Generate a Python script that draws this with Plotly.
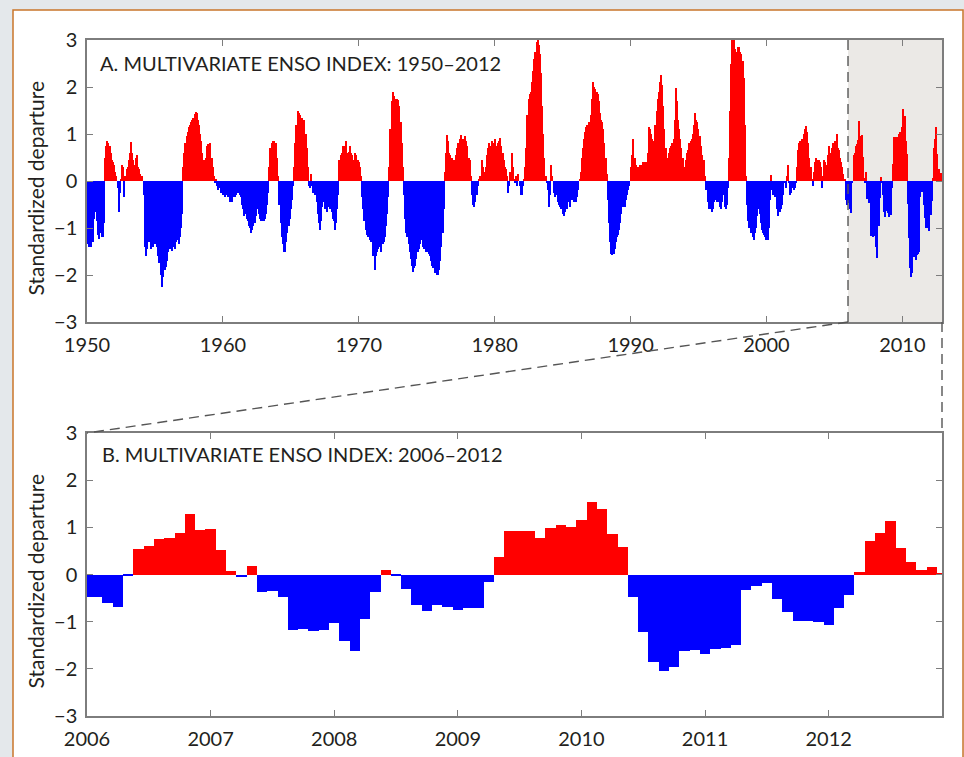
import numpy as np
import plotly.graph_objects as go

# Multivariate ENSO Index, monthly values (Jan..Dec per row)
start_year = 1950
zoom_start = 2006

mei_1950s = [
    -1.25, -1.35, -1.40, -1.30, -1.41, -1.30, -0.80, -0.60, -0.65, -0.85, -1.15, -1.24,  # 1950
    -1.10, -1.20, -1.20, -0.90, 0.50, 0.75, 0.85, 0.80, 0.75, 0.60, 0.45, 0.40,  # 1951
    0.35, 0.20, 0.10, -0.15, -0.65, -0.25, 0.05, 0.35, 0.30, -0.35, 0.10, 0.25,  # 1952
    0.30, 0.45, 0.60, 0.82, 0.60, 0.45, 0.35, 0.50, 0.55, 0.30, 0.25, 0.15,  # 1953
    0.05, 0.10, -0.30, -1.40, -1.59, -1.45, -1.30, -1.20, -1.30, -1.45, -1.40, -1.30,  # 1954
    -1.35, -1.10, -1.40, -1.60, -1.75, -2.00, -2.26, -2.05, -1.85, -1.90, -1.84, -1.70,  # 1955
    -1.50, -1.45, -1.40, -1.48, -1.35, -1.40, -1.45, -1.30, -1.25, -1.35, -1.20, -1.00,  # 1956
    -0.70, 0.30, 0.60, 0.80, 0.95, 1.05, 1.15, 1.20, 1.25, 1.30, 1.35, 1.42,  # 1957
    1.47, 1.45, 1.30, 1.20, 1.00, 0.85, 0.60, 0.45, 0.35, 0.50, 0.75, 0.78,  # 1958
    0.60, 0.80, 0.50, 0.30, 0.10, -0.05, 0.05, -0.10, -0.20, -0.15, -0.25, -0.20,  # 1959
]
mei_1960s = [
    -0.30, -0.25, -0.35, -0.20, -0.30, -0.35, -0.45, -0.40, -0.45, -0.35, -0.30, -0.35,  # 1960
    -0.30, -0.25, -0.20, -0.30, -0.35, -0.50, -0.60, -0.75, -0.70, -0.80, -0.85, -0.95,  # 1961
    -1.00, -1.10, -1.05, -0.95, -0.90, -0.75, -0.60, -0.55, -0.70, -0.80, -0.85, -0.85,  # 1962
    -0.85, -0.80, -0.70, -0.50, -0.25, 0.30, 0.70, 0.80, 0.85, 0.85, 0.80, 0.80,  # 1963
    0.50, 0.10, -0.50, -0.90, -1.20, -1.35, -1.50, -1.52, -1.30, -1.10, -0.95, -0.80,  # 1964
    -0.60, -0.40, -0.10, 0.30, 0.80, 1.20, 1.48, 1.45, 1.40, 1.35, 1.35, 1.30,  # 1965
    1.30, 1.00, 0.70, 0.30, -0.10, -0.15, 0.15, -0.10, -0.25, -0.30, -0.25, -0.45,  # 1966
    -0.70, -0.90, -1.05, -0.85, -0.55, -0.45, -0.60, -0.50, -0.65, -0.55, -0.50, -0.60,  # 1967
    -0.65, -0.80, -0.85, -1.04, -0.90, -0.60, -0.30, 0.45, 0.55, 0.60, 0.75, 0.70,  # 1968
    0.75, 0.85, 0.60, 0.62, 0.74, 0.60, 0.55, 0.45, 0.40, 0.60, 0.55, 0.45,  # 1969
]
mei_1970s = [
    0.40, 0.30, 0.10, -0.35, -0.60, -0.85, -1.05, -1.15, -1.20, -1.20, -1.25, -1.30,  # 1970
    -1.30, -1.60, -1.90, -1.60, -1.50, -1.45, -1.35, -1.40, -1.50, -1.35, -1.30, -1.20,  # 1971
    -0.95, -0.70, -0.35, 0.30, 1.10, 1.70, 1.90, 1.80, 1.70, 1.75, 1.75, 1.72,  # 1972
    1.60, 1.25, 0.80, 0.30, -0.30, -0.80, -1.10, -1.20, -1.35, -1.50, -1.65, -1.80,  # 1973
    -1.94, -1.85, -1.80, -1.65, -1.50, -1.45, -1.35, -1.10, -1.25, -1.40, -1.45, -1.50,  # 1974
    -1.50, -1.45, -1.55, -1.60, -1.70, -1.80, -1.85, -1.95, -1.90, -2.00, -2.01, -1.90,  # 1975
    -1.70, -1.40, -1.10, -0.60, 0.20, 0.60, 0.97, 0.85, 0.60, 0.55, 0.50, 0.45,  # 1976
    0.45, 0.40, 0.55, 0.70, 0.80, 0.90, 0.97, 0.90, 0.85, 0.90, 0.95, 0.85,  # 1977
    0.75, 0.50, 0.45, 0.10, -0.30, -0.50, -0.55, -0.45, -0.30, -0.10, 0.05, 0.10,  # 1978
    0.10, 0.45, 0.30, 0.20, 0.30, 0.55, 0.70, 0.80, 0.60, 0.75, 0.85, 0.80,  # 1979
]
mei_1980s = [
    0.90, 0.70, 0.75, 0.80, 0.85, 0.92, 0.75, 0.60, 0.45, 0.30, 0.25, 0.10,  # 1980
    -0.25, -0.10, 0.20, 0.60, 0.30, 0.05, -0.05, 0.10, -0.10, 0.15, -0.10, -0.30,  # 1981
    -0.30, -0.10, 0.05, 0.30, 0.70, 1.40, 1.75, 1.85, 1.90, 2.10, 2.35, 2.60,  # 1982
    2.75, 2.95, 3.00, 2.90, 2.70, 2.30, 1.60, 1.00, 0.50, 0.10, -0.05, -0.20,  # 1983
    -0.55, -0.30, 0.35, 0.10, -0.25, -0.35, -0.15, -0.30, -0.45, -0.50, -0.55, -0.60,  # 1984
    -0.70, -0.74, -0.65, -0.55, -0.60, -0.35, -0.45, -0.55, -0.40, -0.30, -0.45, -0.35,  # 1985
    -0.45, -0.35, -0.20, 0.05, 0.20, 0.50, 0.70, 0.90, 1.05, 1.15, 1.20, 1.25,  # 1986
    1.25, 1.40, 1.75, 2.10, 2.00, 1.95, 1.90, 1.85, 1.70, 1.45, 1.30, 1.25,  # 1987
    1.10, 0.80, 0.50, 0.15, -0.40, -0.90, -1.30, -1.55, -1.58, -1.55, -1.45, -1.30,  # 1988
    -1.20, -1.15, -1.05, -0.90, -0.70, -0.55, -0.50, -0.55, -0.40, -0.30, -0.20, -0.10,  # 1989
]
mei_1990s = [
    0.30, 0.55, 0.90, 0.45, 0.50, 0.35, 0.30, 0.30, 0.35, 0.30, 0.35, 0.40,  # 1990
    0.40, 0.35, 0.40, 0.60, 1.15, 1.10, 1.00, 0.90, 0.75, 0.85, 1.20, 1.50,  # 1991
    1.75, 1.90, 2.10, 2.25, 2.05, 1.60, 1.10, 0.70, 0.50, 0.45, 0.60, 0.70,  # 1992
    0.75, 0.80, 0.90, 1.30, 1.98, 1.70, 1.30, 1.10, 0.90, 0.70, 0.50, 0.30,  # 1993
    0.20, 0.45, 0.60, 0.65, 0.80, 0.85, 0.90, 1.00, 1.20, 1.45, 1.30, 1.25,  # 1994
    1.10, 0.95, 0.75, 0.55, 0.40, 0.45, 0.10, -0.20, -0.45, -0.60, -0.60, -0.55,  # 1995
    -0.65, -0.60, -0.45, -0.40, -0.45, -0.30, -0.45, -0.55, -0.60, -0.45, -0.30, -0.55,  # 1996
    -0.60, -0.50, -0.15, 0.50, 1.50, 2.50, 3.00, 3.00, 2.80, 2.70, 2.75, 2.85,  # 1997
    2.85, 2.75, 2.70, 2.55, 2.20, 1.20, 0.10, -0.50, -0.85, -1.00, -1.10, -1.10,  # 1998
    -1.20, -1.25, -1.10, -1.00, -0.75, -0.60, -0.70, -0.90, -1.05, -1.10, -1.15, -1.20,  # 1999
]
mei_2000s = [
    -1.25, -1.25, -1.00, -0.40, 0.12, -0.20, -0.30, -0.20, -0.35, -0.60, -0.75, -0.65,  # 2000
    -0.65, -0.60, -0.50, -0.30, -0.05, -0.15, 0.10, 0.35, -0.05, -0.30, -0.25, -0.15,  # 2001
    -0.20, -0.15, -0.05, 0.30, 0.65, 0.80, 0.85, 0.90, 0.90, 1.00, 1.10, 1.17,  # 2002
    1.05, 0.80, 0.50, 0.30, 0.05, -0.10, 0.20, 0.40, 0.50, 0.45, 0.45, 0.40,  # 2003
    0.30, -0.15, 0.10, 0.45, 0.40, 0.35, 0.55, 0.75, 0.60, 0.55, 0.70, 0.80,  # 2004
    0.55, 0.85, 1.00, 0.70, 0.65, 0.50, 0.40, 0.30, 0.15, 0.05, -0.40, -0.50,  # 2005
    -0.47, -0.47, -0.60, -0.68, -0.03, 0.55, 0.60, 0.75, 0.78, 0.88, 1.28, 0.95,  # 2006
    0.97, 0.52, 0.07, -0.05, 0.19, -0.38, -0.35, -0.47, -1.18, -1.16, -1.19, -1.17,  # 2007
    -1.02, -1.41, -1.63, -0.95, -0.37, 0.09, -0.03, -0.30, -0.65, -0.77, -0.64, -0.68,  # 2008
    -0.76, -0.72, -0.72, -0.15, 0.37, 0.93, 0.93, 0.93, 0.77, 0.99, 1.04, 1.00,  # 2009
]
mei_2010s = [
    1.15, 1.53, 1.39, 0.85, 0.58, -0.48, -1.22, -1.86, -2.04, -1.96, -1.62, -1.60,  # 2010
    -1.68, -1.58, -1.56, -1.50, -0.33, -0.24, -0.17, -0.52, -0.79, -0.99, -0.99, -1.00,  # 2011
    -1.06, -0.72, -0.43, 0.06, 0.70, 0.89, 1.14, 0.57, 0.26, 0.10, 0.16, 0.04,  # 2012
]

top_ticks = [1950, 1960, 1970, 1980, 1990, 2000, 2010]
bottom_ticks = [2006, 2007, 2008, 2009, 2010, 2011, 2012]
y_ticks = [-3, -2, -1, 0, 1, 2, 3]

mei = np.array(mei_1950s + mei_1960s + mei_1970s + mei_1980s + mei_1990s + mei_2000s + mei_2010s)
t = start_year + np.arange(len(mei)) / 12
colors = np.where(mei > 0, "#ff0000", "#0000ff")
t_end = t[-1]
sel = t >= zoom_start - 1e-9

W, H = 964, 757
FONT = "Lato"
INK = "#231f20"
AXC = "#7d7d7d"
PAGE = "#e4e8eb"

# plot areas in pixels
top_box = dict(l=87, r=942, t=40, b=322)
bot_box = dict(l=87, r=942, t=433, b=716)


def xdom(b):
    return [b["l"] / W, b["r"] / W]


def ydom(b):
    return [1 - b["b"] / H, 1 - b["t"] / H]


fig = go.Figure()
fig.add_trace(go.Bar(x=t, y=mei, width=1 / 12, marker=dict(color=colors, line=dict(width=0)),
                     xaxis="x", yaxis="y", hoverinfo="x+y"))
fig.add_trace(go.Bar(x=t[sel], y=mei[sel], width=1 / 12, marker=dict(color=colors[sel], line=dict(width=0)),
                     xaxis="x2", yaxis="y2", hoverinfo="x+y"))

axis_style = dict(showline=True, linecolor=AXC, linewidth=1.5, mirror="ticks", ticks="inside",
                  ticklen=6, tickwidth=1.3, tickcolor=AXC, showgrid=False, zeroline=False,
                  automargin=False, ticklabelstandoff=4,
                  tickfont=dict(family=FONT, size=20, color=INK))

top_range = [start_year, t_end]
bot_range = [zoom_start, t_end]

fig.update_layout(
    width=W, height=H,
    autosize=False,
    margin=dict(l=0, r=0, t=0, b=0, pad=0, autoexpand=False),
    paper_bgcolor=PAGE,
    plot_bgcolor="white",
    showlegend=False,
    bargap=0,
    xaxis=dict(domain=xdom(top_box), range=top_range, tickvals=top_ticks, anchor="y", **axis_style),
    yaxis=dict(domain=ydom(top_box), range=[-3, 3], tickvals=y_ticks, anchor="x", **axis_style),
    xaxis2=dict(domain=xdom(bot_box), range=bot_range, tickvals=bottom_ticks, anchor="y2", **axis_style),
    yaxis2=dict(domain=ydom(bot_box), range=[-3, 3], tickvals=y_ticks, anchor="x2", **axis_style),
)


def xpaper(v, dom, rng):
    return dom[0] + (v - rng[0]) / (rng[1] - rng[0]) * (dom[1] - dom[0])


dash_line = dict(color="#555555", width=1.4, dash="10px,6px")
x_zoom_paper = xpaper(zoom_start, xdom(top_box), top_range)

shapes = [
    # page card with orange border
    dict(type="rect", xref="paper", yref="paper", x0=13 / W, x1=963 / W, y0=-0.05, y1=1 - 10 / H,
         fillcolor="white", line=dict(color="#c9762b", width=1.5), layer="below"),
    # shaded zoom window in the top panel
    dict(type="rect", xref="x", yref="y", x0=zoom_start, x1=t_end, y0=-3, y1=3,
         fillcolor="#ebe9e6", line=dict(width=0), layer="below"),
    dict(type="line", xref="x", yref="y", x0=zoom_start, x1=zoom_start, y0=-3, y1=3,
         line=dash_line),
    # connectors between panels
    dict(type="line", xref="paper", yref="paper", x0=x_zoom_paper, y0=ydom(top_box)[0],
         x1=xdom(bot_box)[0], y1=ydom(bot_box)[1], line=dash_line),
    dict(type="line", xref="paper", yref="paper", x0=xdom(top_box)[1], y0=ydom(top_box)[0],
         x1=xdom(bot_box)[1], y1=ydom(bot_box)[1], line=dash_line),
]
fig.update_layout(shapes=shapes)

txt = dict(family=FONT, size=20, color=INK)
ytxt = dict(family=FONT, size=21, color=INK)
fig.update_layout(annotations=[
    dict(text="A. MULTIVARIATE ENSO INDEX: 1950\u20132012", xref="paper", yref="paper",
         x=98 / W, y=1 - 63.5 / H, xanchor="left", yanchor="middle", showarrow=False, font=txt),
    dict(text="B. MULTIVARIATE ENSO INDEX: 2006\u20132012", xref="paper", yref="paper",
         x=100 / W, y=1 - 454.5 / H, xanchor="left", yanchor="middle", showarrow=False, font=txt),
    dict(text="Standardized departure", xref="paper", yref="paper", x=35 / W, y=1 - 188.5 / H,
         textangle=-90, xanchor="center", yanchor="middle", showarrow=False, font=ytxt),
    dict(text="Standardized departure", xref="paper", yref="paper", x=35 / W, y=1 - 581.5 / H,
         textangle=-90, xanchor="center", yanchor="middle", showarrow=False, font=ytxt),
])

fig.write_html("out.html", config={"displayModeBar": False},
               post_script=f"document.body.style.margin='0';document.body.style.background='{PAGE}';")
